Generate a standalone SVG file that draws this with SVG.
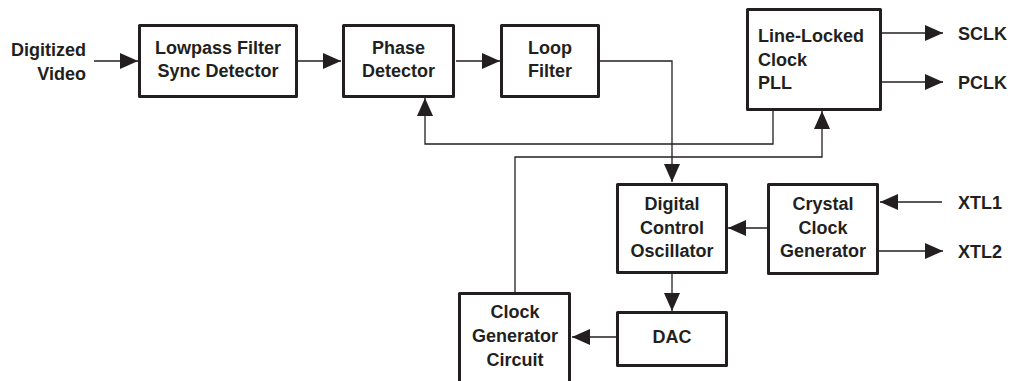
<svg xmlns="http://www.w3.org/2000/svg" width="1012" height="381" viewBox="0 0 1012 381">
<style>
.box{fill:#fff;stroke:#231f20;stroke-width:3;stroke-linejoin:round}
.t{font-family:"Liberation Sans",Arial,sans-serif;font-weight:bold;font-size:18px;fill:#231f20}
.c{text-anchor:middle}
.w{fill:none;stroke:#231f20;stroke-width:1.3}
</style>
<defs>
<marker id="ah" markerUnits="userSpaceOnUse" markerWidth="18" markerHeight="16" refX="18" refY="8" orient="auto" viewBox="0 0 18 16">
<path d="M0,0 L18,8 L0,16 z" fill="#231f20"/>
</marker>
</defs>
<rect width="1012" height="381" fill="#fff"/>
<g id="connectors" class="w" marker-end="url(#ah)">
<path d="M94,61 H138"/>
<path d="M298,61 H341"/>
<path d="M456,61 H500"/>
<path d="M600,61 H672 V182"/>
<path d="M773,111 V144 H425 V98"/>
<path d="M515,292 V157 H822 V111"/>
<path d="M767,228 H728"/>
<path d="M672,274 V311"/>
<path d="M616,337 H572"/>
<path d="M942,202 H880"/>
<path d="M882,33 H943"/>
<path d="M882,82 H943"/>
<path d="M879,251 H943"/>
</g>
<g id="in-video"><text class="t" text-anchor="end" x="86" y="56">Digitized</text><text class="t" text-anchor="end" x="86" y="80">Video</text></g>
<g id="lowpass"><rect class="box" x="139.5" y="25.5" width="157" height="71"/><text class="t c" x="218" y="53.5">Lowpass Filter</text><text class="t c" x="218" y="76.5">Sync Detector</text></g>
<g id="phase"><rect class="box" x="343.5" y="25.5" width="110" height="71"/><text class="t c" x="398.5" y="53.5">Phase</text><text class="t c" x="398.5" y="76.5">Detector</text></g>
<g id="loop"><rect class="box" x="501.5" y="25.5" width="97" height="71"/><text class="t c" x="550" y="53.5">Loop</text><text class="t c" x="550" y="76.5">Filter</text></g>
<g id="llc"><rect class="box" x="747.5" y="9.5" width="133" height="100"/><text class="t" x="758" y="42">Line-Locked</text><text class="t" x="758" y="65.5">Clock</text><text class="t" x="758" y="89">PLL</text></g>
<g id="sclk"><text class="t" x="958" y="39.5">SCLK</text></g>
<g id="pclk"><text class="t" x="958" y="88.5">PCLK</text></g>
<g id="dco"><rect class="box" x="617.5" y="184.5" width="109" height="88"/><text class="t c" x="672" y="210">Digital</text><text class="t c" x="672" y="233.5">Control</text><text class="t c" x="672" y="257">Oscillator</text></g>
<g id="crystal"><rect class="box" x="768.5" y="184.5" width="109" height="89"/><text class="t c" x="823" y="210">Crystal</text><text class="t c" x="823" y="233.5">Clock</text><text class="t c" x="823" y="257">Generator</text></g>
<g id="xtl1"><text class="t" x="958" y="209">XTL1</text></g>
<g id="xtl2"><text class="t" x="958" y="258">XTL2</text></g>
<g id="dac"><rect class="box" x="617.5" y="312.5" width="109" height="53"/><text class="t c" x="672" y="343">DAC</text></g>
<g id="clkgen"><rect class="box" x="459.5" y="293.5" width="110" height="100"/><text class="t c" x="515" y="318">Clock</text><text class="t c" x="515" y="342">Generator</text><text class="t c" x="515" y="366">Circuit</text></g>
</svg>
